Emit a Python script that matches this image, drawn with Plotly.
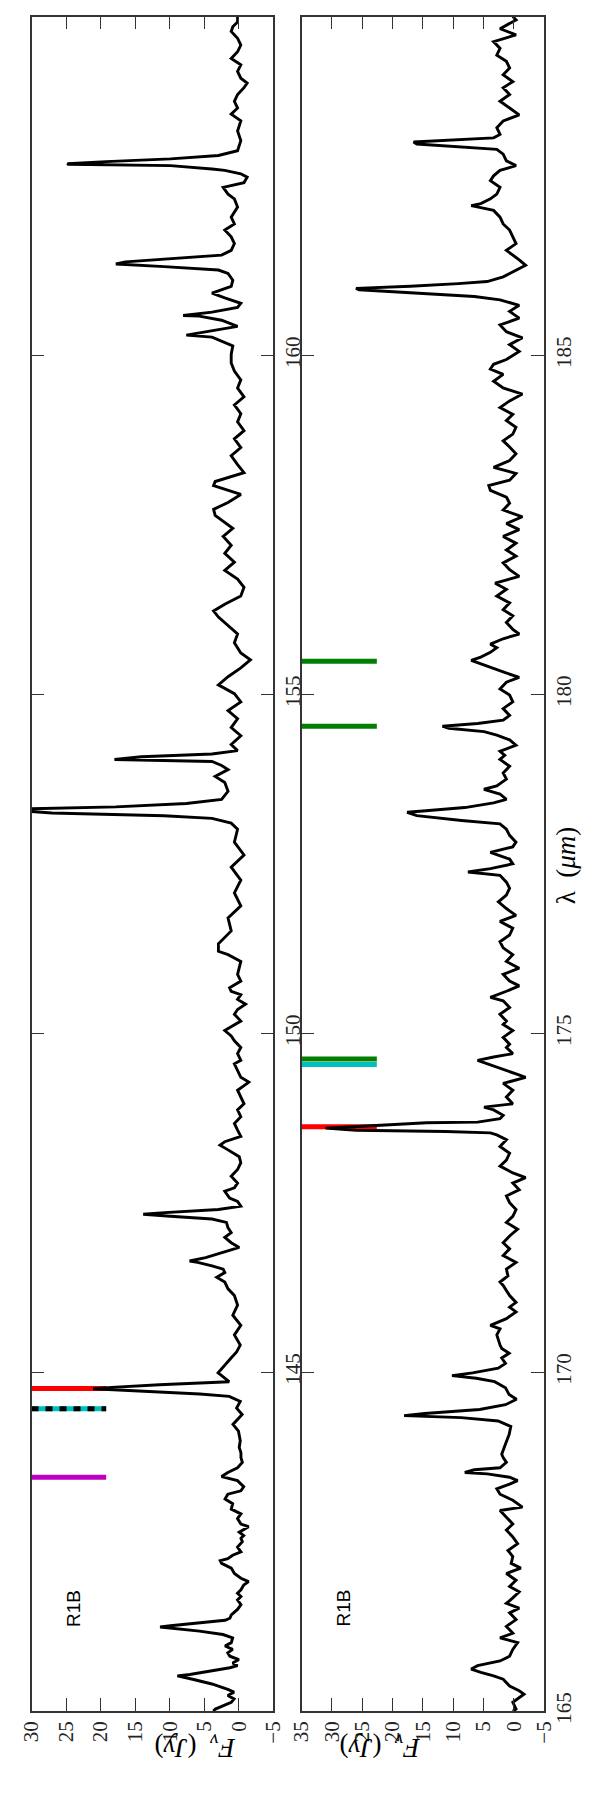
import plotly.graph_objects as go

# ---------------- data ----------------
lam1 = [140.00, 140.03, 140.13, 140.18, 140.23, 140.28, 140.32, 140.40, 140.47, 140.52, 140.54, 140.59, 140.64, 140.67,
        140.71, 140.76, 140.81, 140.86, 140.91, 140.96, 141.01, 141.08, 141.13, 141.18, 141.21, 141.24, 141.26, 141.30,
        141.34, 141.37, 141.42, 141.50, 141.57, 141.64, 141.69, 141.74, 141.79, 141.86, 141.91, 141.96, 142.03, 142.11,
        142.18, 142.22, 142.25, 142.30, 142.35, 142.42, 142.50, 142.55, 142.59, 142.64, 142.72, 142.76, 142.84, 142.91,
        142.98, 143.06, 143.13, 143.20, 143.25, 143.31, 143.40, 143.46, 143.52, 143.59, 143.67, 143.74, 143.81, 143.89,
        143.99, 144.13, 144.23, 144.375, 144.47, 144.57, 144.644, 144.678, 144.717, 144.756, 144.776, 144.815, 144.86,
        144.99, 145.21, 145.30, 145.40, 145.55, 145.69, 145.84, 145.99, 146.13, 146.23, 146.33, 146.40, 146.47, 146.52,
        146.57, 146.62, 146.64, 146.69, 146.79, 146.84, 146.91, 146.99, 147.06, 147.13, 147.21, 147.26, 147.30, 147.33,
        147.35, 147.40, 147.45, 147.52, 147.57, 147.67, 147.72, 147.79, 147.89, 147.99, 148.09, 148.18, 148.28, 148.35,
        148.40, 148.48, 148.57, 148.67, 148.77, 148.87, 148.96, 149.06, 149.16, 149.26, 149.28, 149.35, 149.45, 149.55,
        149.60, 149.70, 149.79, 149.89, 149.96, 150.04, 150.11, 150.18, 150.28, 150.35, 150.43, 150.50, 150.57, 150.62,
        150.67, 150.77, 150.87, 150.96, 151.06, 151.16, 151.21, 151.32, 151.51, 151.70, 151.88, 152.07, 152.26, 152.45,
        152.63, 152.82, 153.01, 153.10, 153.17, 153.21, 153.25, 153.28, 153.31, 153.34, 153.39, 153.45, 153.57, 153.70,
        153.79, 153.89, 153.95, 154.01, 154.04, 154.08, 154.12, 154.17, 154.26, 154.39, 154.51, 154.64, 154.76, 154.89,
        155.01, 155.14, 155.26, 155.39, 155.51, 155.61, 155.76, 155.89, 156.01, 156.14, 156.23, 156.33, 156.45, 156.58,
        156.70, 156.83, 156.95, 157.08, 157.20, 157.33, 157.45, 157.64, 157.73, 157.83, 157.95, 158.08, 158.14, 158.27,
        158.39, 158.52, 158.64, 158.77, 158.89, 159.02, 159.14, 159.27, 159.39, 159.52, 159.64, 159.77, 159.89, 160.02,
        160.14, 160.27, 160.30, 160.36, 160.43, 160.52, 160.58, 160.59, 160.64, 160.71, 160.77, 160.85, 160.92, 161.02,
        161.11, 161.21, 161.26, 161.31, 161.35, 161.38, 161.42, 161.48, 161.55, 161.65, 161.75, 161.85, 161.94, 162.04,
        162.19, 162.31, 162.38, 162.48, 162.55, 162.63, 162.68, 162.73, 162.75, 162.80, 162.82, 162.83, 162.86, 162.90,
        162.95, 163.02, 163.17, 163.31, 163.46, 163.56, 163.65, 163.75, 163.85, 163.95, 164.02, 164.09, 164.19, 164.29,
        164.38, 164.48, 164.58, 164.68, 164.78, 164.85, 164.92, 165.00]
flux1 = [3.7, 3.4, 1.1, 0.7, 1.6, 0.7, 1.6, 3.9, 6.7, 8.9, 7.1, 3.9, 1.3, 0.2,
         0.9, 0.0, 1.3, 1.6, 0.9, 2.0, 1.1, 0.9, 2.3, 5.7, 9.0, 11.4, 9.9, 5.7,
         2.0, 1.3, 1.1, 0.2, -0.3, 0.2, -0.3, 0.2, -0.3, -0.7, -1.4, -0.3, 0.65, 1.1,
         2.5, 2.7, 1.6, 0.9, -0.3, 0.2, -0.5, -0.3, -0.7, -0.05, -1.4, -0.3, 0.2, -0.3,
         1.1, 0.9, 2.0, 1.6, -0.3, -0.7, 0.2, 2.5, 1.6, 0.2, -0.5, -0.3, -0.3, -0.05,
         -0.2, 0.06, 0.86, -0.47, 0.33, -0.2, 1.4, 5.66, 14.2, 21.1, 18.4, 11.5, 1.4,
         3.0, 1.13, 0.33, -0.2, 0.65, -0.28, 0.88, 0.19, 0.65, 1.57, 2.04, 3.2, 2.04, 2.27,
         3.89, 5.97, 7.13, 4.81, 1.57, -0.05, 1.11, 2.04, 1.11, 1.57, 1.8, 3.89, 9.91, 13.84,
         11.3, 2.96, -0.28, 0.19, 1.34, 2.04, 0.65, 0.19, 1.11, 0.19, -0.28, -0.05, 1.57, 2.73,
         2.04, -0.28, 0.19, 0.65, -0.28, 0.19, -0.74, -0.28, 0.19, -1.2, -1.44, -0.28, 0.19, 0.65,
         -0.28, 0.19, -0.28, 0.65, 1.11, 2.04, 0.88, -0.28, 0.65, 0.19, -0.97, 0.19, -0.28, 1.11,
         1.34, -0.28, 0.19, -0.05, -0.28, 1.57, 2.96, 2.96, 1.11, 1.57, -0.28, 0.65, -0.28, 1.11,
         -0.74, 0.65, 0.19, 1.11, 3.89, 10.83, 27.04, 31.0, 31.0, 17.8, 7.6, 2.5, 1.57, 2.04,
         3.43, 1.57, 2.5, 3.89, 18.0, 14.1, 3.89, 0.19, 1.11, -0.28, 1.11, 0.19, 1.57, -0.28,
         0.65, 2.96, 1.57, -0.28, -1.67, -0.28, 0.65, 0.19, 1.57, 2.96, 3.66, 2.04, -0.28, -0.74,
         0.19, 2.04, 0.65, 2.04, 1.11, 2.27, 0.88, 3.43, 3.66, 1.57, -0.28, 3.66, 3.43, -0.74,
         0.19, 1.11, -0.28, 0.65, -0.74, 0.19, -0.28, 0.65, -0.74, 0.19, -0.28, 0.65, 1.11, 1.11,
         0.88, 3.89, 7.6, 4.4, 0.19, 2.5, 5.74, 8.06, 3.89, 0.19, -0.28, 2.04, 3.89, 1.11,
         0.88, 1.57, 2.96, 10.8, 17.8, 16.4, 10.4, 2.5, 1.11, 0.65, 1.11, 2.04, 0.65, 1.11,
         0.19, 0.65, 1.57, 2.27, -0.74, -1.2, -0.28, 2.04, 3.89, 9.9, 24.7, 24.8, 19.2, 9.9,
         2.96, 0.19, -0.28, 0.19, -0.28, 1.11, 0.19, 0.65, 0.19, -0.74, -1.2, -0.28, 0.19, -0.28,
         1.11, 0.19, -0.28, 0.19, 1.11, 0.88, 0.19, 0.19]

lam2 = [165.00, 165.03, 165.13, 165.25, 165.30, 165.37, 165.47, 165.52, 165.57, 165.62, 165.67, 165.74, 165.81, 165.91,
        166.01, 166.08, 166.15, 166.25, 166.35, 166.45, 166.52, 166.59, 166.67, 166.76, 166.84, 166.93, 167.03, 167.11,
        167.18, 167.28, 167.37, 167.47, 167.57, 167.67, 167.76, 167.86, 167.96, 168.01, 168.11, 168.20, 168.28, 168.35,
        168.40, 168.45, 168.50, 168.52, 168.56, 168.59, 168.67, 168.74, 168.79, 168.94, 169.08, 169.20, 169.28, 169.33,
        169.36, 169.39, 169.45, 169.52, 169.60, 169.67, 169.77, 169.86, 169.91, 169.95, 169.99, 170.06, 170.13, 170.21,
        170.28, 170.35, 170.40, 170.55, 170.64, 170.69, 170.79, 170.89, 170.96, 171.03, 171.13, 171.28, 171.33, 171.42,
        171.52, 171.62, 171.72, 171.82, 171.91, 172.01, 172.11, 172.21, 172.30, 172.40, 172.50, 172.60, 172.69, 172.79,
        172.87, 172.94, 173.04, 173.13, 173.23, 173.33, 173.43, 173.50, 173.53, 173.55, 173.57, 173.60, 173.62, 173.66,
        173.68, 173.69, 173.74, 173.79, 173.87, 173.91, 173.96, 174.06, 174.16, 174.26, 174.35, 174.40, 174.48, 174.55,
        174.60, 174.65, 174.70, 174.79, 174.84, 174.94, 175.04, 175.13, 175.18, 175.28, 175.38, 175.48, 175.53, 175.62,
        175.70, 175.77, 175.87, 175.96, 176.06, 176.16, 176.26, 176.35, 176.45, 176.55, 176.65, 176.74, 176.84, 176.94,
        177.04, 177.14, 177.23, 177.33, 177.38, 177.43, 177.50, 177.57, 177.67, 177.75, 177.82, 177.92, 178.01, 178.09,
        178.14, 178.21, 178.26, 178.28, 178.33, 178.40, 178.45, 178.53, 178.60, 178.65, 178.75, 178.84, 178.94, 179.04,
        179.10, 179.16, 179.25, 179.33, 179.40, 179.45, 179.50, 179.53, 179.57, 179.62, 179.69, 179.79, 179.89, 179.99,
        180.08, 180.18, 180.25, 180.33, 180.40, 180.47, 180.50, 180.55, 180.62, 180.69, 180.74, 180.82, 180.89, 180.96,
        181.06, 181.16, 181.25, 181.35, 181.45, 181.55, 181.64, 181.74, 181.84, 181.94, 182.04, 182.13, 182.23, 182.33,
        182.43, 182.52, 182.62, 182.72, 182.82, 182.91, 183.01, 183.08, 183.16, 183.26, 183.35, 183.45, 183.55, 183.65,
        183.74, 183.84, 183.94, 184.04, 184.13, 184.23, 184.33, 184.43, 184.52, 184.62, 184.72, 184.80, 184.87, 184.94,
        185.06, 185.16, 185.26, 185.35, 185.45, 185.55, 185.65, 185.74, 185.82, 185.87, 185.92, 185.97, 185.99, 186.02,
        186.06, 186.09, 186.16, 186.26, 186.33, 186.41, 186.48, 186.55, 186.65, 186.75, 186.85, 186.94, 187.04, 187.14,
        187.21, 187.24, 187.31, 187.38, 187.48, 187.58, 187.65, 187.73, 187.80, 187.87, 187.97, 188.04, 188.12, 188.15,
        188.18, 188.21, 188.26, 188.36, 188.46, 188.55, 188.65, 188.75, 188.85, 188.95, 189.04, 189.14, 189.24, 189.34,
        189.43, 189.53, 189.63, 189.73, 189.82, 189.90, 189.95, 190.00]
flux2 = [0.17, -0.36, 0.17, -1.67, -0.88, 0.70, 1.76, 3.34, 5.45, 7.03, 5.98, 2.28, 0.70, 0.17,
         -0.62, 2.28, 0.17, 1.23, -0.36, 0.70, -0.88, 1.23, 0.17, -0.88, 0.70, -0.36, 1.23, -1.15,
         0.44, 0.17, 0.97, -0.62, 0.17, 1.23, 0.17, 1.23, 2.28, -1.41, 0.17, 2.28, 2.81, 0.70,
         -0.62, 0.70, 4.4, 8.09, 6.51, 2.28, 1.23, 1.76, 2.0, 1.38, 0.78, 0.5, 2.6, 8.67,
         18.1, 14.7, 5.65, 1.38, -0.44, 0.78, 1.38, 3.17, 6.2, 10.2, 6.8, 2.57, 1.38, 2.0,
         0.78, 2.0, 2.28, 2.81, 2.28, 3.87, 1.23, -0.36, 0.70, -0.36, 0.70, 1.76, 2.28, 0.97,
         1.23, -0.36, 1.76, 0.70, 1.76, 0.70, -0.62, 1.23, 0.17, -0.36, 0.70, 1.23, -0.88, 0.17,
         -1.94, 0.17, 2.28, 1.23, 0.70, 2.28, 1.23, 2.81, 3.87, 11.26, 26.04, 31.05, 26.6, 18.65,
         14.4, 5.98, 2.28, 1.76, 3.34, 4.92, 0.17, 1.23, 0.17, 1.76, -1.94, -0.36, 2.28, 4.4,
         5.98, 3.34, 0.17, 1.23, 0.70, 1.76, 0.18, 1.76, 1.23, 2.29, 0.70, 1.76, 3.87, 1.23,
         -0.88, 0.70, 1.76, -0.88, 1.23, 0.18, 1.76, 2.29, 0.70, 0.18, 2.29, -0.35, 1.23, 2.55,
         1.23, 0.70, 1.23, 2.29, 7.57, 3.87, 0.18, 0.70, 3.87, 0.18, -0.35, 0.70, 1.23, 2.29,
         8.62, 16.0, 17.6, 15.0, 8.09, 3.34, 1.23, 2.29, 4.93, 2.82, 1.23, 1.76, 0.70, 2.29,
         1.5, 2.28, -0.35, 0.70, 2.81, 4.92, 10.73, 11.78, 5.98, 1.76, 0.70, 1.76, 0.17, 0.70,
         2.28, 1.23, -0.88, 1.76, 3.87, 5.98, 7.03, 5.45, 3.87, 2.81, 3.87, 1.76, -0.88, 0.17,
         1.23, 0.17, 1.76, 0.70, 2.81, 1.23, 3.08, -0.88, 0.70, 1.76, -0.35, 1.23, -0.35, 1.76,
         -0.88, 1.23, -1.41, 1.76, 0.70, 1.23, 3.87, 4.13, 0.70, -0.35, 3.34, 0.70, -0.35, 0.70,
         1.76, 0.17, -0.35, 1.23, 0.17, 2.28, 0.70, -1.41, 1.76, 3.34, 1.76, 3.87, 3.34, 1.23,
         -0.88, 0.70, -1.41, 1.23, 2.28, -0.88, 0.70, -0.88, 2.28, 6.51, 16.54, 25.51, 26.04, 17.07,
         9.15, 4.4, 1.76, -0.36, -1.94, -0.88, 0.17, 1.23, -0.36, 0.17, 0.70, 1.76, 2.28, 3.34,
         7.03, 5.45, 3.87, 2.81, 2.28, 3.87, 3.34, 2.28, -0.36, 1.23, 1.76, 2.81, 16.0, 16.54,
         10.2, 3.34, 2.28, 2.81, 1.76, -0.88, 0.70, 2.28, 0.70, 1.76, 0.17, 1.76, 0.70, 1.23,
         2.81, 2.28, 3.34, -0.36, 2.28, 0.70, -0.36, 0.17]

# line identification marks (wavelength, flux extent)
marks1_lam = [143.45, 144.46, 144.76]
marks1_kind = ["magenta", "cyan_dash", "red"]
marks1_top = 30.0
marks1_bottom = 19.2

marks2_lam = [173.62, 174.54, 174.62, 179.53, 180.49]
marks2_kind = ["red", "cyan", "green", "green", "green"]
marks2_top = 35.0
marks2_bottom = 22.6

flux_ticks1 = [30, 25, 20, 15, 10, 5, 0, -5]
flux_ticks2 = [35, 30, 25, 20, 15, 10, 5, 0, -5]
lam_ticks1 = [145, 150, 155, 160]
lam_ticks2 = [165, 170, 175, 180, 185]
lam_range1 = [140, 165]
lam_range2 = [165, 190]
flux_range1 = [30, -5]
flux_range2 = [35, -5]
panel_label = "R1B"

# ---------------- styles ----------------
COLORS = {"magenta": "#bf00bf", "red": "#ff0000", "cyan": "#00bfbf", "green": "#007f00"}
MARK_W = 5
W, H = 600, 1800
px_left1, px_right1 = 12, 264
px_left2, px_right2 = 293.4, 546
px_top, px_bot = 8.6, 1715.5
ydom = [1 - px_bot / H, 1 - px_top / H]

fig = go.Figure()


def add_marks(lams, kinds, top, bottom, xa, ya):
    for lam, kind in zip(lams, kinds):
        if kind == "cyan_dash":
            fig.add_trace(go.Scatter(x=[top, bottom], y=[lam, lam], mode="lines",
                                     line=dict(color=COLORS["cyan"], width=MARK_W),
                                     xaxis=xa, yaxis=ya, hoverinfo="skip"))
            fig.add_trace(go.Scatter(x=[top, bottom], y=[lam, lam], mode="lines",
                                     line=dict(color="black", width=MARK_W, dash="7px,7px"),
                                     xaxis=xa, yaxis=ya, hoverinfo="skip"))
        else:
            fig.add_trace(go.Scatter(x=[top, bottom], y=[lam, lam], mode="lines",
                                     line=dict(color=COLORS[kind], width=MARK_W),
                                     xaxis=xa, yaxis=ya, hoverinfo="skip"))


add_marks(marks1_lam, marks1_kind, marks1_top, marks1_bottom, "x", "y")
add_marks(marks2_lam, marks2_kind, marks2_top, marks2_bottom, "x2", "y2")

fig.add_trace(go.Scatter(x=flux1, y=lam1, mode="lines", line=dict(color="black", width=2.9),
                         xaxis="x", yaxis="y", hoverinfo="skip"))
fig.add_trace(go.Scatter(x=flux2, y=lam2, mode="lines", line=dict(color="black", width=2.9),
                         xaxis="x2", yaxis="y2", hoverinfo="skip"))

tickfont = dict(family="Liberation Serif, DejaVu Serif, serif", size=21, color="#222")
common_x = dict(ticks="inside", ticklen=13, tickwidth=1.4, tickcolor="#333", showline=True,
                linecolor="#333", linewidth=1.6, mirror="ticks", showgrid=False, zeroline=False,
                tickangle=-90, tickfont=tickfont, fixedrange=True)
common_y = dict(ticks="inside", ticklen=13, tickwidth=1.4, tickcolor="#333", showline=True,
                linecolor="#333", linewidth=1.6, mirror="ticks", showgrid=False, zeroline=False,
                tickangle=-90, tickfont=tickfont, side="right", fixedrange=True)

fig.update_layout(
    width=W, height=H, margin=dict(l=0, r=0, t=0, b=0),
    paper_bgcolor="white", plot_bgcolor="white", showlegend=False,
    xaxis=dict(domain=[px_left1 / W, px_right1 / W], range=flux_range1, tickvals=flux_ticks1,
               anchor="y", **common_x),
    yaxis=dict(domain=ydom, range=lam_range1, tickvals=lam_ticks1, anchor="x", **common_y),
    xaxis2=dict(domain=[px_left2 / W, px_right2 / W], range=flux_range2, tickvals=flux_ticks2,
                anchor="y2", **common_x),
    yaxis2=dict(domain=ydom, range=lam_range2, tickvals=lam_ticks2, anchor="x2", **common_y),
)

label_font = dict(family="Liberation Sans, Arial, sans-serif", size=19, color="black")
fig.add_annotation(x=24.0, y=141.52, xref="x", yref="y", text=panel_label, showarrow=False,
                   textangle=-90, font=label_font)
fig.add_annotation(x=28.1, y=166.52, xref="x2", yref="y2", text=panel_label, showarrow=False,
                   textangle=-90, font=label_font)

title_font = dict(family="Liberation Serif, DejaVu Serif, serif", size=27, color="black")
for xc in [(px_left1 + px_right1) / 2 / W, (px_left2 + px_right2) / 2 / W]:
    fig.add_annotation(x=xc, y=1 - 1770 / H, xref="paper", yref="paper",
                       text="<i>F</i><sub><i>ν</i></sub>\u2002(<i>Jy</i>)", showarrow=False,
                       textangle=180, font=title_font)
fig.add_annotation(x=586 / W, y=1 - 864 / H, xref="paper", yref="paper",
                   text="λ\u2002(<i>μm</i>)", showarrow=False, textangle=-90, font=title_font)

fig.write_html("out.html")
